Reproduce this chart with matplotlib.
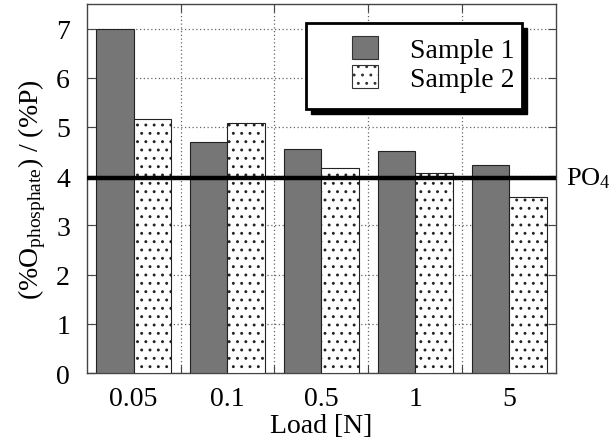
import matplotlib
matplotlib.use("Agg")
import matplotlib.pyplot as plt
import numpy as np
from matplotlib.patches import Rectangle, Patch

plt.rcParams['font.family'] = ['Liberation Serif', 'DejaVu Serif']
plt.rcParams['mathtext.fontset'] = 'custom'
plt.rcParams['mathtext.rm'] = 'Liberation Serif'
plt.rcParams['mathtext.it'] = 'Liberation Serif:italic'
plt.rcParams['hatch.linewidth'] = 0.9
plt.rcParams['hatch.color'] = '#2a2a2a'

categories = ['0.05', '0.1', '0.5', '1', '5']
sample1 = [7.0, 4.69, 4.55, 4.51, 4.22]
sample2 = [5.17, 5.09, 4.17, 4.07, 3.57]
po4_level = 3.96
series_names = ['Sample 1', 'Sample 2']

FS = 20
W, H = 611, 439
fig = plt.figure(figsize=(W / 100, H / 100), dpi=100)
ax = fig.add_axes([86.7 / W, 1 - 374 / H, (556 - 86.7) / W, (374 - 5) / H])

x = np.arange(len(categories))
bw = 0.4
ax.bar(x - bw / 2, sample1, bw, color='#767676', edgecolor='#222222', linewidth=0.8, zorder=3)
ax.bar(x + bw / 2, sample2, bw, color='white', edgecolor='#222222', linewidth=0.8,
       hatch='..', zorder=3)
ax.axhline(po4_level, color='black', linewidth=3.2, zorder=5)

ax.set_xlim(-0.5, len(categories) - 0.5)
ax.set_ylim(0, 7.5)

# gridlines at group boundaries, labels at group centers
ax.set_xticks(np.arange(0.5, len(categories) - 0.5, 1.0))
ax.set_xticklabels([])
ax.set_xticks(x, minor=True)
ax.set_xticklabels(categories, minor=True)
ax.tick_params(axis='x', which='minor', length=0, pad=9, labelsize=FS)
ax.tick_params(axis='x', which='major', direction='in', length=6, top=True, color='#444444')
ax.set_yticks(range(0, 8))
ax.tick_params(axis='y', direction='in', length=6, right=True, labelsize=FS, pad=12, color='#444444')
ax.grid(True, which='major', linestyle=(0, (1, 2)), color='#666666', linewidth=0.9, zorder=0)

for s in ax.spines.values():
    s.set_color('#444444')
    s.set_linewidth(1.0)

ax.set_xlabel('Load [N]', fontsize=FS, labelpad=2)
ax.set_ylabel('(%O$_{\\mathrm{phosphate}}$) / (%P)', fontsize=FS, labelpad=6)

ax.annotate('PO$_4$', xy=(1, po4_level), xycoords=('axes fraction', 'data'),
            xytext=(7, 0), textcoords='offset points', fontsize=19,
            va='center', ha='left', annotation_clip=False)

# legend box with solid drop shadow
lx0, ly0, lx1, ly1 = 306, 24, 522, 110
fig.patches.append(Rectangle(((lx0 + 5) / W, 1 - (ly1 + 5) / H), (lx1 - lx0) / W, (ly1 - ly0) / H,
                             transform=fig.transFigure, facecolor='black', edgecolor='black', zorder=10))
fig.patches.append(Rectangle((lx0 / W, 1 - ly1 / H), (lx1 - lx0) / W, (ly1 - ly0) / H,
                             transform=fig.transFigure, facecolor='white', edgecolor='black',
                             linewidth=2.0, zorder=11))
handles = [Patch(facecolor='#767676', edgecolor='#333333', linewidth=0.8),
           Patch(facecolor='white', edgecolor='#333333', linewidth=0.8, hatch='..')]
leg = fig.legend(handles, series_names, loc='upper left',
                 bbox_to_anchor=(352 / W, 1 - 37 / H), bbox_transform=fig.transFigure,
                 frameon=False, fontsize=FS, handlelength=0.95, handleheight=0.9,
                 handletextpad=1.15, labelspacing=0.05, borderpad=0, borderaxespad=0)
leg.set_zorder(12)

fig.savefig('out.png', dpi=100)
